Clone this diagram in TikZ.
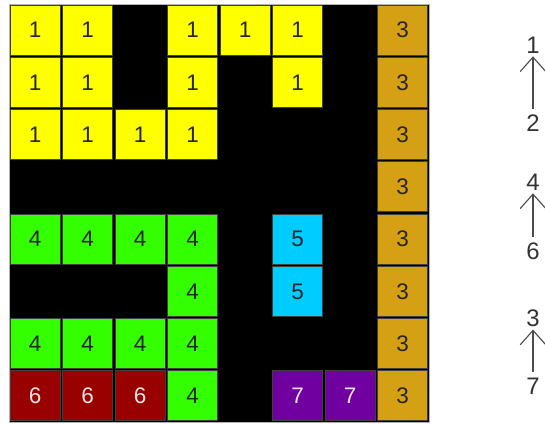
\documentclass[tikz,border=0pt]{standalone}
\usepackage{fontspec}
\setmainfont{Liberation Sans}
\usepackage{xcolor}
\usetikzlibrary{arrows.meta,positioning}

\definecolor{pieceyellow}{RGB}{255,255,0}
\definecolor{piecegold}{RGB}{214,160,20}
\definecolor{piecegreen}{RGB}{51,255,0}
\definecolor{piececyan}{RGB}{0,204,255}
\definecolor{piecered}{RGB}{153,0,0}
\definecolor{piecepurple}{RGB}{112,0,160}

\begin{document}
\begin{tikzpicture}[
    x=0.025cm, y=-0.025cm,
    font=\fontsize{16}{18}\selectfont,
    board/.style={fill=black, draw=gray!60, line width=0.6pt},
    cell/.style={
        rectangle,
        minimum size=1.25cm,
        inner sep=0pt,
        draw=black!75,
        line width=0.7pt,
        text=black!85
    },
    v1/.style={fill=pieceyellow},
    v3/.style={fill=piecegold},
    v4/.style={fill=piecegreen},
    v5/.style={fill=piececyan},
    v6/.style={fill=piecered, text=white!90!black},
    v7/.style={fill=piecepurple, text=white!90!black},
    lbl/.style={inner sep=1pt, text=black!80, font=\fontsize{17}{19}\selectfont},
    up/.style={-{Straight Barb[length=3.6mm,width=6.4mm]}, line width=0.8pt, draw=black!70,
        shorten <=3pt, shorten >=1pt}
]
\useasboundingbox (0,0) rectangle (545,424);

% =========================================================
% Board
% =========================================================
\draw[board] (9,4) rectangle (429,422);

% Pieces (column/row/value)
\foreach \c/\r/\v in {
    0/0/1, 1/0/1, 3/0/1, 4/0/1, 5/0/1,
    0/1/1, 1/1/1, 3/1/1, 5/1/1,
    0/2/1, 1/2/1, 2/2/1, 3/2/1,
    7/0/3, 7/1/3, 7/2/3, 7/3/3, 7/4/3, 7/5/3, 7/6/3, 7/7/3,
    0/4/4, 1/4/4, 2/4/4, 3/4/4,
    3/5/4,
    0/6/4, 1/6/4, 2/6/4, 3/6/4,
    3/7/4,
    5/4/5, 5/5/5,
    0/7/6, 1/7/6, 2/7/6,
    5/7/7, 6/7/7}
  \node[cell, v\v] (c\c-\r) at ({9+52.5*(\c+0.5)}, {4+52.25*(\r+0.5)}) {\v};

% =========================================================
% Order of moves
% =========================================================
\node[lbl] (l1) at (533,45) {1};
\node[lbl] (l2) at (533,123) {2};
\node[lbl] (l4) at (533,182) {4};
\node[lbl] (l6) at (533,251) {6};
\node[lbl] (l3) at (533,318) {3};
\node[lbl] (l7) at (533,386) {7};

\draw[up] (l2) -- (l1);
\draw[up] (l6) -- (l4);
\draw[up] (l7) -- (l3);

\end{tikzpicture}
\end{document}
